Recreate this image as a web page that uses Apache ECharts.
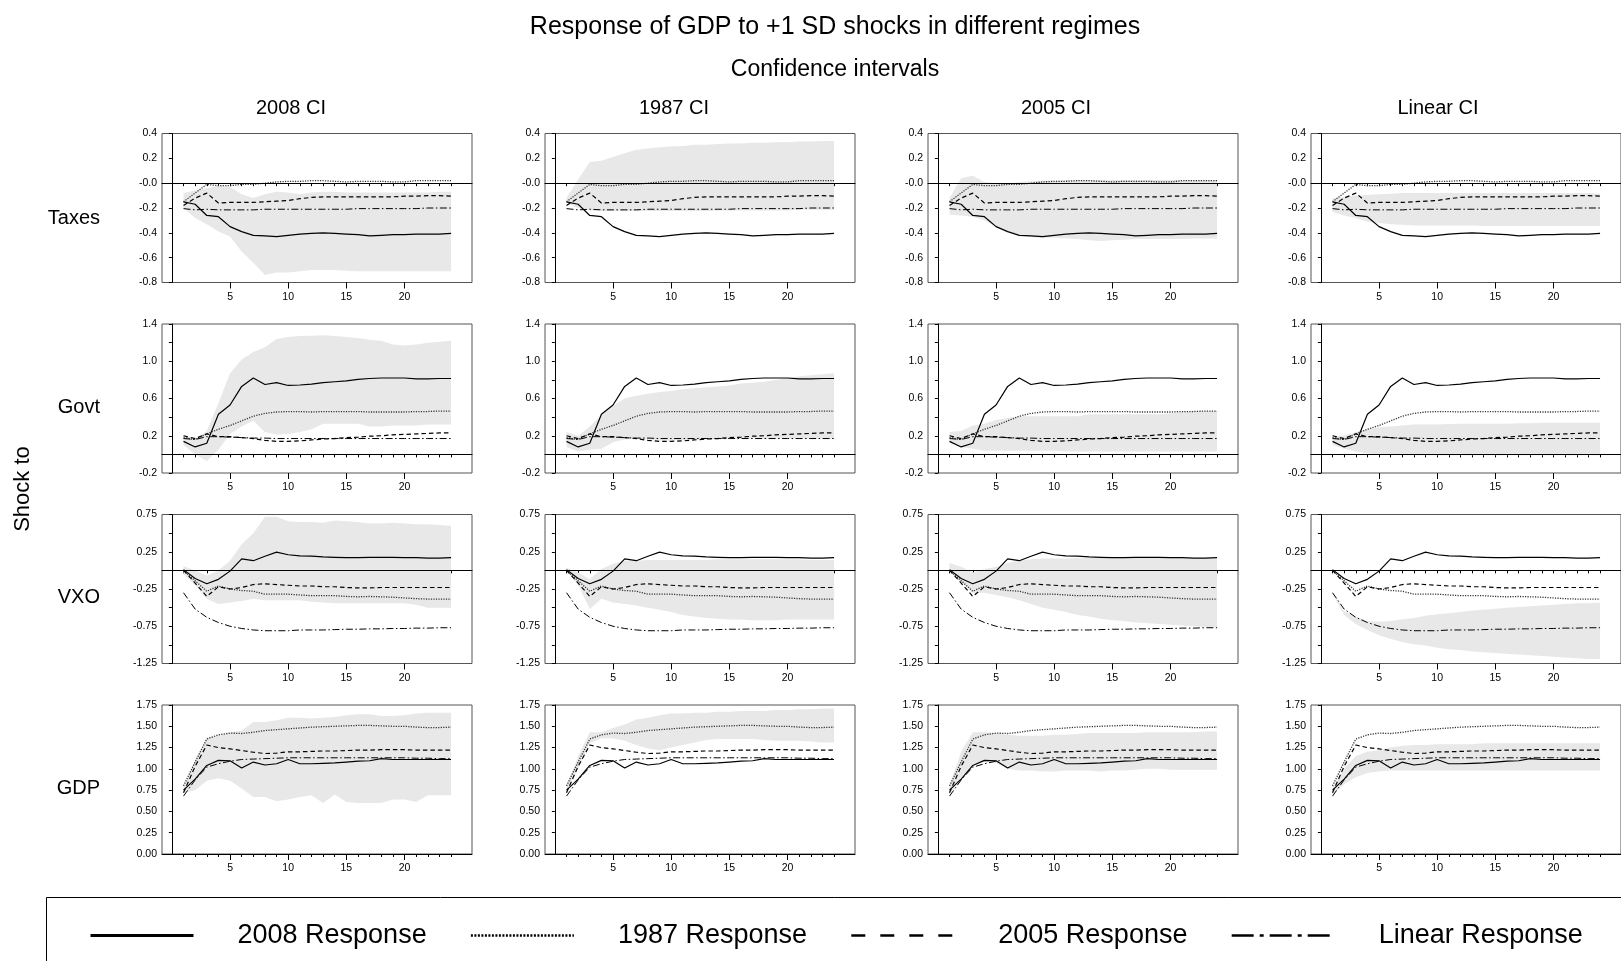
<!DOCTYPE html>
<html>
<head>
<meta charset="utf-8">
<script src="https://cdn.jsdelivr.net/npm/echarts@6/dist/echarts.min.js"></script>
<style>
  html, body { margin: 0; background: #fff; }
  #chart { width: 1621px; height: 961px; }
</style>
</head>
<body>
<div id="chart"></div>
<script>
// horizons and labels
const horizon = [1, 2, 3, 4, 5, 6, 7, 8, 9, 10, 11, 12, 13, 14, 15, 16, 17, 18, 19, 20, 21, 22, 23, 24];
const xTickLabels = [5, 10, 15, 20];
const shocks = ['Taxes', 'Govt', 'VXO', 'GDP'];
const ciNames = ['2008 CI', '1987 CI', '2005 CI', 'Linear CI'];
const respNames = ['2008 Response', '1987 Response', '2005 Response', 'Linear Response'];

const taxesTicks = ['-0.8', '-0.6', '-0.4', '-0.2', '-0.0', '0.2', '0.4'];
const govtTicks = ['-0.2', '', '0.2', '', '0.6', '', '1.0', '', '1.4'];
const vxoTicks = ['-1.25', '', '-0.75', '', '-0.25', '', '0.25', '', '0.75'];
const gdpTicks = ['0.00', '0.25', '0.50', '0.75', '1.00', '1.25', '1.50', '1.75'];

// responses (same in every column)
const taxes2008 = [-0.15,-0.17,-0.26,-0.27,-0.35,-0.39,-0.42,-0.425,-0.43,-0.42,-0.41,-0.405,-0.40,-0.405,-0.41,-0.415,-0.425,-0.42,-0.415,-0.415,-0.41,-0.41,-0.41,-0.405];
const taxes1987 = [-0.15,-0.08,-0.01,-0.02,-0.02,-0.01,-0.01,0.0,0.01,0.015,0.015,0.02,0.02,0.015,0.01,0.015,0.015,0.015,0.01,0.01,0.02,0.02,0.02,0.02];
const taxes2005 = [-0.18,-0.12,-0.08,-0.16,-0.155,-0.155,-0.155,-0.15,-0.145,-0.14,-0.125,-0.115,-0.11,-0.11,-0.11,-0.11,-0.11,-0.11,-0.11,-0.105,-0.105,-0.1,-0.1,-0.105];
const taxesLinear = [-0.205,-0.215,-0.21,-0.215,-0.215,-0.215,-0.215,-0.21,-0.21,-0.21,-0.21,-0.21,-0.21,-0.21,-0.21,-0.205,-0.205,-0.205,-0.205,-0.205,-0.205,-0.2,-0.2,-0.2];

const govt2008 = [0.14,0.08,0.12,0.43,0.53,0.73,0.82,0.75,0.77,0.74,0.745,0.755,0.77,0.78,0.79,0.805,0.815,0.82,0.82,0.82,0.81,0.81,0.815,0.815];
const govt1987 = [0.18,0.16,0.22,0.27,0.31,0.36,0.41,0.44,0.455,0.46,0.46,0.455,0.46,0.46,0.46,0.46,0.455,0.455,0.455,0.455,0.46,0.46,0.465,0.465];
const govt2005 = [0.2,0.17,0.22,0.19,0.19,0.18,0.17,0.15,0.14,0.14,0.145,0.155,0.165,0.17,0.18,0.185,0.195,0.2,0.21,0.215,0.22,0.225,0.23,0.23];
const govtLinear = [0.17,0.16,0.19,0.19,0.185,0.18,0.175,0.175,0.17,0.17,0.17,0.17,0.17,0.17,0.17,0.17,0.17,0.17,0.17,0.17,0.17,0.17,0.17,0.17];

const vxo2008 = [0.01,-0.11,-0.18,-0.12,-0.01,0.155,0.13,0.19,0.245,0.21,0.195,0.19,0.18,0.175,0.17,0.17,0.175,0.175,0.175,0.17,0.17,0.165,0.165,0.17];
const vxo1987 = [0.0,-0.14,-0.28,-0.21,-0.25,-0.27,-0.28,-0.32,-0.32,-0.32,-0.33,-0.34,-0.34,-0.34,-0.35,-0.355,-0.35,-0.355,-0.36,-0.37,-0.38,-0.385,-0.385,-0.385];
const vxo2005 = [0.0,-0.17,-0.35,-0.22,-0.25,-0.23,-0.19,-0.18,-0.19,-0.2,-0.21,-0.21,-0.22,-0.22,-0.23,-0.235,-0.235,-0.23,-0.23,-0.23,-0.23,-0.23,-0.23,-0.23];
const vxoLinear = [-0.3,-0.52,-0.63,-0.7,-0.75,-0.78,-0.8,-0.81,-0.81,-0.81,-0.8,-0.8,-0.8,-0.795,-0.79,-0.79,-0.785,-0.785,-0.78,-0.78,-0.775,-0.775,-0.77,-0.77];

const gdp2008 = [0.75,0.88,1.04,1.10,1.095,1.01,1.08,1.045,1.06,1.11,1.06,1.06,1.065,1.07,1.08,1.09,1.095,1.12,1.11,1.11,1.11,1.11,1.11,1.11];
const gdp1987 = [0.8,1.08,1.35,1.4,1.42,1.415,1.43,1.45,1.46,1.47,1.48,1.49,1.495,1.5,1.505,1.51,1.51,1.505,1.5,1.5,1.49,1.485,1.485,1.49];
const gdp2005 = [0.72,1.03,1.28,1.25,1.235,1.215,1.195,1.18,1.185,1.2,1.2,1.205,1.21,1.21,1.215,1.22,1.22,1.225,1.225,1.225,1.22,1.22,1.22,1.22];
const gdpLinear = [0.68,0.87,1.02,1.06,1.09,1.11,1.115,1.12,1.125,1.13,1.13,1.13,1.13,1.13,1.13,1.13,1.13,1.13,1.13,1.13,1.125,1.125,1.12,1.12];

// confidence bands (lower / upper) per regime
const taxesCI2008Lo = [-0.2,-0.28,-0.33,-0.39,-0.43,-0.55,-0.64,-0.74,-0.72,-0.72,-0.71,-0.70,-0.70,-0.70,-0.705,-0.71,-0.71,-0.71,-0.71,-0.71,-0.71,-0.71,-0.71,-0.71];
const taxesCI2008Hi = [-0.08,-0.06,-0.04,-0.02,-0.03,-0.09,-0.12,-0.09,-0.07,-0.075,-0.09,-0.075,-0.07,-0.07,-0.075,-0.075,-0.075,-0.075,-0.075,-0.075,-0.075,-0.075,-0.07,-0.07];
const taxesCI1987Lo = [-0.16,-0.2,-0.22,-0.225,-0.225,-0.225,-0.225,-0.225,-0.225,-0.225,-0.225,-0.225,-0.225,-0.22,-0.22,-0.22,-0.22,-0.22,-0.22,-0.22,-0.215,-0.215,-0.215,-0.215];
const taxesCI1987Hi = [-0.12,0.03,0.17,0.18,0.21,0.24,0.27,0.28,0.29,0.295,0.30,0.31,0.31,0.315,0.32,0.32,0.325,0.325,0.33,0.33,0.335,0.335,0.34,0.34];
const taxesCI2005Lo = [-0.255,-0.26,-0.27,-0.30,-0.35,-0.39,-0.42,-0.435,-0.44,-0.44,-0.445,-0.45,-0.46,-0.465,-0.46,-0.455,-0.45,-0.45,-0.45,-0.45,-0.45,-0.445,-0.445,-0.445];
const taxesCI2005Hi = [-0.12,0.04,0.06,0.01,0.0,0.0,0.01,0.015,0.02,0.02,0.025,0.025,0.025,0.025,0.025,0.025,0.025,0.025,0.025,0.025,0.025,0.025,0.025,0.025];
const taxesCILinLo = [-0.23,-0.26,-0.28,-0.31,-0.32,-0.33,-0.335,-0.34,-0.34,-0.34,-0.34,-0.34,-0.34,-0.345,-0.345,-0.345,-0.345,-0.345,-0.345,-0.345,-0.345,-0.345,-0.345,-0.345];
const taxesCILinHi = [-0.12,-0.11,-0.10,-0.095,-0.09,-0.085,-0.08,-0.08,-0.08,-0.08,-0.08,-0.08,-0.08,-0.08,-0.08,-0.08,-0.08,-0.08,-0.08,-0.08,-0.08,-0.08,-0.08,-0.085];

const govtCI2008Lo = [0.1,0.0,-0.07,0.05,0.22,0.3,0.36,0.24,0.21,0.22,0.24,0.27,0.33,0.33,0.33,0.33,0.30,0.30,0.31,0.31,0.31,0.32,0.32,0.32];
const govtCI2008Hi = [0.21,0.16,0.25,0.55,0.87,1.02,1.10,1.15,1.24,1.26,1.27,1.275,1.28,1.27,1.26,1.25,1.23,1.22,1.18,1.17,1.18,1.2,1.21,1.22];
const govtCI1987Lo = [0.08,0.03,0.05,0.06,0.13,0.16,0.17,0.16,0.15,0.15,0.155,0.16,0.165,0.165,0.17,0.17,0.17,0.17,0.17,0.17,0.17,0.17,0.17,0.17];
const govtCI1987Hi = [0.24,0.2,0.3,0.42,0.52,0.6,0.63,0.65,0.67,0.68,0.7,0.71,0.72,0.73,0.74,0.76,0.77,0.78,0.8,0.82,0.84,0.85,0.86,0.87];
const govtCI2005Lo = [0.13,0.08,0.06,0.04,0.04,0.04,0.04,0.04,0.04,0.04,0.03,0.03,0.03,0.03,0.03,0.03,0.03,0.03,0.03,0.03,0.03,0.03,0.03,0.03];
const govtCI2005Hi = [0.24,0.25,0.31,0.33,0.37,0.39,0.41,0.41,0.41,0.41,0.41,0.41,0.43,0.43,0.43,0.43,0.43,0.43,0.43,0.44,0.46,0.46,0.465,0.465];
const govtCILinLo = [0.1,0.06,0.03,0.01,0.0,-0.005,-0.005,-0.01,-0.01,-0.01,-0.01,-0.01,-0.01,-0.01,-0.01,-0.01,-0.01,-0.01,-0.01,-0.01,-0.01,-0.01,-0.01,-0.01];
const govtCILinHi = [0.2,0.2,0.24,0.27,0.29,0.3,0.31,0.32,0.32,0.32,0.325,0.33,0.33,0.33,0.33,0.33,0.335,0.335,0.34,0.34,0.34,0.34,0.34,0.34];

const vxoCI2008Lo = [-0.05,-0.2,-0.38,-0.45,-0.43,-0.41,-0.38,-0.4,-0.4,-0.4,-0.4,-0.42,-0.43,-0.44,-0.44,-0.44,-0.44,-0.44,-0.44,-0.44,-0.46,-0.5,-0.5,-0.5];
const vxoCI2008Hi = [0.06,0.0,-0.07,0.0,0.13,0.35,0.5,0.72,0.72,0.66,0.65,0.65,0.64,0.67,0.66,0.65,0.63,0.63,0.64,0.63,0.62,0.62,0.61,0.6];
const vxoCI1987Lo = [0.0,-0.2,-0.52,-0.38,-0.43,-0.45,-0.47,-0.5,-0.53,-0.56,-0.6,-0.62,-0.64,-0.65,-0.66,-0.66,-0.67,-0.67,-0.67,-0.66,-0.66,-0.66,-0.66,-0.66];
const vxoCI1987Hi = [0.04,-0.03,-0.12,0.02,0.09,0.13,0.13,0.14,0.14,0.14,0.14,0.14,0.14,0.15,0.15,0.15,0.15,0.15,0.15,0.15,0.15,0.14,0.14,0.14];
const vxoCI2005Lo = [-0.02,-0.15,-0.3,-0.3,-0.33,-0.36,-0.4,-0.45,-0.5,-0.53,-0.56,-0.6,-0.62,-0.65,-0.67,-0.68,-0.7,-0.71,-0.72,-0.73,-0.74,-0.75,-0.76,-0.76];
const vxoCI2005Hi = [0.1,0.05,-0.03,0.02,0.05,0.1,0.13,0.15,0.16,0.16,0.16,0.165,0.165,0.165,0.165,0.165,0.165,0.165,0.165,0.165,0.165,0.16,0.16,0.16];
const vxoCILinLo = [-0.32,-0.6,-0.72,-0.8,-0.87,-0.92,-0.96,-0.99,-1.01,-1.04,-1.06,-1.07,-1.09,-1.1,-1.11,-1.12,-1.13,-1.14,-1.15,-1.16,-1.17,-1.18,-1.19,-1.19];
const vxoCILinHi = [-0.3,-0.55,-0.62,-0.68,-0.69,-0.68,-0.655,-0.64,-0.61,-0.59,-0.575,-0.56,-0.54,-0.53,-0.515,-0.5,-0.49,-0.48,-0.47,-0.46,-0.45,-0.44,-0.44,-0.435];

const gdpCI2008Lo = [0.72,0.75,0.86,0.89,0.86,0.77,0.67,0.67,0.62,0.64,0.67,0.69,0.6,0.7,0.61,0.6,0.6,0.6,0.64,0.64,0.61,0.69,0.69,0.69];
const gdpCI2008Hi = [0.78,1.1,1.37,1.39,1.43,1.45,1.55,1.55,1.57,1.6,1.6,1.59,1.6,1.61,1.63,1.64,1.64,1.62,1.62,1.63,1.65,1.66,1.66,1.66];
const gdpCI1987Lo = [0.74,1.0,1.3,1.36,1.36,1.33,1.28,1.24,1.22,1.25,1.28,1.31,1.34,1.35,1.35,1.35,1.35,1.34,1.33,1.33,1.33,1.32,1.31,1.31];
const gdpCI1987Hi = [0.8,1.15,1.43,1.43,1.48,1.52,1.58,1.6,1.63,1.65,1.65,1.66,1.66,1.67,1.67,1.68,1.68,1.68,1.69,1.69,1.7,1.7,1.71,1.71];
const gdpCI2005Lo = [0.7,0.9,1.05,1.08,1.07,1.0,0.98,0.98,0.97,0.97,0.98,0.98,0.98,0.97,0.98,0.98,0.99,1.0,1.0,0.99,0.99,0.99,0.99,0.99];
const gdpCI2005Hi = [0.8,1.2,1.43,1.43,1.42,1.4,1.39,1.39,1.39,1.4,1.4,1.41,1.42,1.42,1.42,1.42,1.42,1.43,1.43,1.43,1.43,1.43,1.44,1.44];
const gdpCILinLo = [0.7,0.82,0.9,0.95,0.97,0.98,0.98,0.98,0.98,0.98,0.98,0.98,0.98,0.98,0.98,0.98,0.98,0.98,0.98,0.98,0.98,0.98,0.98,0.98];
const gdpCILinHi = [0.78,1.0,1.15,1.2,1.22,1.25,1.27,1.28,1.28,1.29,1.29,1.29,1.29,1.3,1.3,1.3,1.3,1.3,1.3,1.3,1.3,1.3,1.3,1.3];

const responses = [
  [taxes2008, taxes1987, taxes2005, taxesLinear],
  [govt2008, govt1987, govt2005, govtLinear],
  [vxo2008, vxo1987, vxo2005, vxoLinear],
  [gdp2008, gdp1987, gdp2005, gdpLinear]
];
const bands = [
  [[taxesCI2008Lo, taxesCI2008Hi], [taxesCI1987Lo, taxesCI1987Hi], [taxesCI2005Lo, taxesCI2005Hi], [taxesCILinLo, taxesCILinHi]],
  [[govtCI2008Lo, govtCI2008Hi], [govtCI1987Lo, govtCI1987Hi], [govtCI2005Lo, govtCI2005Hi], [govtCILinLo, govtCILinHi]],
  [[vxoCI2008Lo, vxoCI2008Hi], [vxoCI1987Lo, vxoCI1987Hi], [vxoCI2005Lo, vxoCI2005Hi], [vxoCILinLo, vxoCILinHi]],
  [[gdpCI2008Lo, gdpCI2008Hi], [gdpCI1987Lo, gdpCI1987Hi], [gdpCI2005Lo, gdpCI2005Hi], [gdpCILinLo, gdpCILinHi]]
];
const yTicks = [taxesTicks, govtTicks, vxoTicks, gdpTicks];

// axis ranges per row
const yMin = [-0.8, -0.2, -1.25, 0];
const yMax = [0.4, 1.4, 0.75, 1.75];
const yStep = [0.2, 0.2, 0.25, 0.25];

// layout
const FONT = 'Liberation Sans';
const colLeft = [162, 545, 928, 1311];
const rowTop = [133.5, 324, 514.5, 705];
const plotW = 310, plotH = 149;
const colTitleX = [291, 674, 1056, 1438];
const rowLabelY = [218, 407, 597, 788];

const lineStyles = [
  { color: '#000', width: 1.2, type: 'solid' },
  { color: '#333', width: 1.3, type: [1.2, 1.3] },
  { color: '#000', width: 1.2, type: [4.5, 3] },
  { color: '#000', width: 1, type: [7, 2.5, 1.5, 2.5] }
];
const legendLines = [
  { color: '#000', width: 3, type: 'solid' },
  { color: '#000', width: 2.5, type: [2, 1.5] },
  { color: '#000', width: 2.5, type: [14, 15] },
  { color: '#000', width: 2.5, type: [22, 6, 4, 6] }
];

// shaded band: one polygon, upper edge then lower edge backwards
const bandRenderer = (lo, hi) => (params, api) => {
  if (params.dataIndex !== 0) return;
  const pts = [];
  horizon.forEach((h, i) => pts.push(api.coord([h, hi[i]])));
  for (let i = horizon.length - 1; i >= 0; i--) pts.push(api.coord([horizon[i], lo[i]]));
  return {
    type: 'polygon',
    shape: { points: pts },
    style: { fill: '#e8e8e8', stroke: null }
  };
};

const grids = [], xAxes = [], yAxes = [], series = [];

for (let r = 0; r < 4; r++) {
  for (let c = 0; c < 4; c++) {
    const g = r * 4 + c;
    grids.push({
      left: colLeft[c], top: rowTop[r], width: plotW, height: plotH,
      show: true, borderColor: '#555', borderWidth: 1
    });
    // small ticks at every horizon
    xAxes.push({
      type: 'value', gridIndex: g, position: 'bottom', min: -0.85, max: 25.8,
      axisLine: { show: true, lineStyle: { color: '#000', width: 1 } },
      axisTick: { show: true, length: 3, customValues: horizon, lineStyle: { color: '#000' } },
      axisLabel: { show: false },
      splitLine: { show: false }
    });
    // longer ticks + labels at 5,10,15,20
    xAxes.push({
      type: 'value', gridIndex: g, position: 'bottom', min: -0.85, max: 25.8,
      axisLine: { show: false },
      axisTick: { show: true, length: 6, customValues: xTickLabels, lineStyle: { color: '#000' } },
      axisLabel: { show: true, customValues: xTickLabels, fontSize: 10.5, color: '#000', fontFamily: FONT, margin: 9 },
      splitLine: { show: false }
    });
    const ticks = yTicks[r];
    yAxes.push({
      type: 'value', gridIndex: g, min: yMin[r], max: yMax[r], interval: yStep[r],
      axisLine: { show: true, lineStyle: { color: '#000', width: 1 } },
      axisTick: { show: true, length: 3, lineStyle: { color: '#000' } },
      axisLabel: {
        fontSize: 10.5, color: '#000', fontFamily: FONT, margin: 5,
        formatter: (v, i) => ticks[i]
      },
      splitLine: { show: false }
    });

    const [lo, hi] = bands[r][c];
    series.push({
      name: 'band', type: 'custom', xAxisIndex: g * 2, yAxisIndex: g, z: 1,
      silent: true,
      renderItem: bandRenderer(lo, hi),
      encode: { x: 0, y: [1, 2] },
      data: horizon.map((h, i) => [h, lo[i], hi[i]])
    });

    responses[r].forEach((vals, k) => {
      const s = {
        name: respNames[k], type: 'line', xAxisIndex: g * 2, yAxisIndex: g, z: 3,
        symbol: 'none', silent: true,
        itemStyle: { color: '#000' },
        lineStyle: lineStyles[k],
        data: horizon.map((h, i) => [h, vals[i]])
      };
      if (k === 0 && r < 3) {
        s.markLine = {
          silent: true, symbol: 'none', label: { show: false },
          lineStyle: { color: '#000', width: 1, type: 'solid' },
          data: [{ yAxis: 0 }]
        };
      }
      series.push(s);
    });
  }
}

const graphic = [
  { type: 'text', x: 835, y: 27, style: { text: 'Response of GDP to +1 SD shocks in different regimes', fontSize: 25, fontFamily: FONT, fill: '#000', align: 'center', verticalAlign: 'middle' } },
  { type: 'text', x: 835, y: 70, style: { text: 'Confidence intervals', fontSize: 23, fontFamily: FONT, fill: '#000', align: 'center', verticalAlign: 'middle' } },
  { type: 'text', x: 23, y: 489, rotation: Math.PI / 2, style: { text: 'Shock to', fontSize: 22, fontFamily: FONT, fill: '#000', align: 'center', verticalAlign: 'middle' } },
  { type: 'rect', shape: { x: 46.5, y: 897.5, width: 1620, height: 100 }, style: { fill: 'none', stroke: '#000', lineWidth: 1 } }
];
ciNames.forEach((t, c) => {
  graphic.push({ type: 'text', x: colTitleX[c], y: 108.5, style: { text: t, fontSize: 20, fontFamily: FONT, fill: '#000', align: 'center', verticalAlign: 'middle' } });
});
shocks.forEach((t, r) => {
  graphic.push({ type: 'text', x: 100, y: rowLabelY[r], style: { text: t, fontSize: 20, fontFamily: FONT, fill: '#000', align: 'right', verticalAlign: 'middle' } });
});

const chart = echarts.init(document.getElementById('chart'));
chart.setOption({
  animation: false,
  backgroundColor: '#fff',
  textStyle: { fontFamily: FONT, color: '#000' },
  grid: grids,
  xAxis: xAxes,
  yAxis: yAxes,
  legend: {
    left: 84, top: 917, itemWidth: 103, itemHeight: 14, itemGap: 43,
    selectedMode: false,
    itemStyle: { color: 'rgba(0,0,0,0)', borderWidth: 0 },
    textStyle: { fontSize: 27, color: '#000', fontFamily: FONT, padding: [0, 0, 0, 39] },
    data: respNames.map((n, i) => ({
      name: n,
      itemStyle: { color: 'rgba(0,0,0,0)', borderWidth: 0 },
      lineStyle: legendLines[i]
    }))
  },
  graphic: graphic,
  series: series
});
</script>
</body>
</html>
